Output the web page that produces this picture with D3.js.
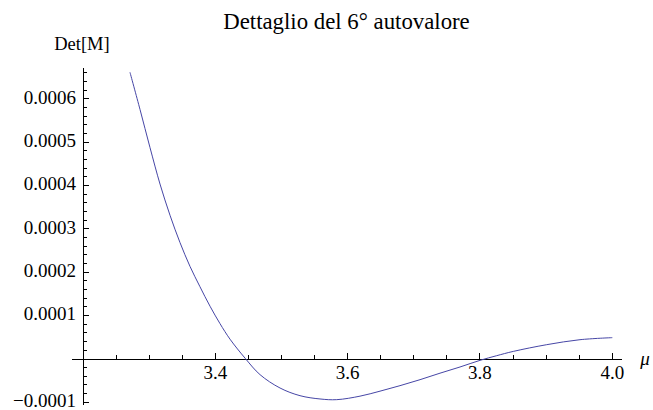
<!DOCTYPE html>
<html>
<head>
<meta charset="utf-8">
<script src="https://cdn.jsdelivr.net/npm/d3@7"></script>
<style>
  body { margin: 0; background: #fff; }
  .axis line { stroke: #000; stroke-width: 1; shape-rendering: crispEdges; }
</style>
</head>
<body>
<div id="chart"></div>
<script>
// values
var mu  = [3.2710, 3.2862, 3.3013, 3.3164, 3.3315, 3.3466, 3.3617, 3.3768, 3.3920, 3.4071,
           3.4222, 3.4456, 3.4676, 3.4978, 3.5280, 3.5582, 3.5835, 3.6187, 3.6489, 3.6791,
           3.7094, 3.7396, 3.7698, 3.8000, 3.8253, 3.8504, 3.9009, 3.9512, 4.0];
var det = [0.000661, 0.000575, 0.000487, 0.000403, 0.000331, 0.000268, 0.000213, 0.000166, 0.000121, 0.0000808,
           0.0000450, 0.0, -0.0000369, -0.0000677, -0.0000854, -0.0000930, -0.0000946, -0.0000865, -0.0000750, -0.0000623,
           -0.0000485, -0.0000335, -0.0000192, -0.0000039, 0.0000069, 0.0000168, 0.0000323, 0.0000438, 0.0000485];

var xMajor = [3.4, 3.6, 3.8, 4.0];
var xMinor = [3.25, 3.3, 3.35, 3.45, 3.5, 3.55, 3.65, 3.7, 3.75, 3.85, 3.9, 3.95];
var yMajor = [-0.0001, 0.0001, 0.0002, 0.0003, 0.0004, 0.0005, 0.0006];
var yMinor = [-0.00008, -0.00006, -0.00004, -0.00002,
  0.00002, 0.00004, 0.00006, 0.00008, 0.00012, 0.00014, 0.00016, 0.00018,
  0.00022, 0.00024, 0.00026, 0.00028, 0.00032, 0.00034, 0.00036, 0.00038,
  0.00042, 0.00044, 0.00046, 0.00048, 0.00052, 0.00054, 0.00056, 0.00058,
  0.00062, 0.00064, 0.00066];

var width = 653, height = 410;
var serif = "'Liberation Serif', 'Times New Roman', Times, 'DejaVu Serif', serif";

var svg = d3.select("#chart").append("svg")
  .attr("width", width)
  .attr("height", height)
  .style("display", "block");

var x = d3.scaleLinear().domain([3.2, 4.0]).range([83, 612.3]);
var y = d3.scaleLinear().domain([-0.0001, 0.0006]).range([402, 98.7]);

var fmt = d3.format(".4f");

// x axis (ticks pointing up, labels below)
var gx = svg.append("g").attr("class", "axis")
  .attr("transform", "translate(0," + Math.round(y(0)) + ")");
gx.append("line")
  .attr("x1", x(3.183)).attr("x2", x(4.015));
gx.selectAll(".maj").data(xMajor).enter().append("line")
  .attr("x1", x).attr("x2", x).attr("y1", 0).attr("y2", -6);
gx.selectAll(".min").data(xMinor).enter().append("line")
  .attr("x1", x).attr("x2", x).attr("y1", 0).attr("y2", -4);
gx.selectAll("text").data(xMajor).enter().append("text")
  .attr("x", x).attr("y", 20)
  .attr("text-anchor", "middle")
  .attr("font-family", serif)
  .attr("font-size", 19)
  .text(function(d) { return d.toFixed(1); });

// y axis (ticks pointing right, labels left)
var gy = svg.append("g").attr("class", "axis")
  .attr("transform", "translate(" + x(3.2) + ",0)");
gy.append("line")
  .attr("y1", y(0.00067)).attr("y2", y(-0.000107));
gy.selectAll(".maj").data(yMajor).enter().append("line")
  .attr("y1", y).attr("y2", y).attr("x1", 0).attr("x2", 6);
gy.selectAll(".min").data(yMinor).enter().append("line")
  .attr("y1", y).attr("y2", y).attr("x1", 0).attr("x2", 3.7);
gy.selectAll("text").data(yMajor).enter().append("text")
  .attr("x", -7).attr("y", function(d) { return y(d) + 5; })
  .attr("text-anchor", "end")
  .attr("font-family", serif)
  .attr("font-size", 19)
  .text(function(d) { return fmt(d); });

// curve
var line = d3.line()
  .x(function(d, i) { return x(mu[i]); })
  .y(function(d) { return y(d); })
  .curve(d3.curveCatmullRom);

svg.append("path")
  .datum(det)
  .attr("fill", "none")
  .attr("stroke", "#4646a6")
  .attr("stroke-width", 1)
  .attr("d", line);

// labels
svg.append("text")
  .attr("x", 346.5).attr("y", 28.5)
  .attr("text-anchor", "middle")
  .attr("font-family", serif)
  .attr("font-size", 22.8)
  .text("Dettaglio del 6° autovalore");

svg.append("text")
  .attr("x", 82).attr("y", 50)
  .attr("text-anchor", "middle")
  .attr("font-family", serif)
  .attr("font-size", 18.5)
  .text("Det[M]");

svg.append("text")
  .attr("x", 645).attr("y", 365)
  .attr("text-anchor", "middle")
  .attr("font-family", serif)
  .attr("font-size", 19)
  .attr("font-style", "italic")
  .text("μ");
</script>
</body>
</html>
